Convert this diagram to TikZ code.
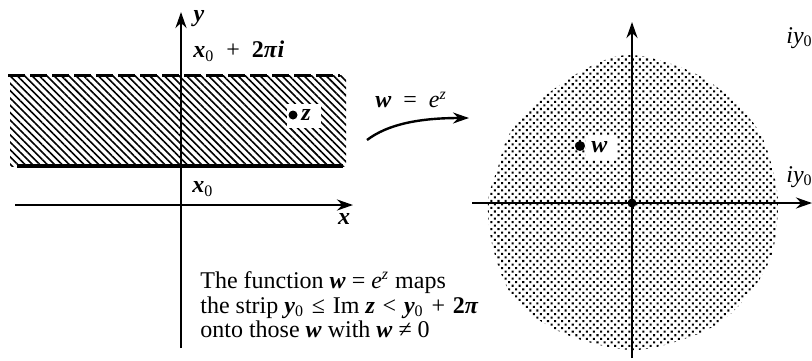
\documentclass[tikz,border=0pt]{standalone}
\usepackage{fontspec}
\setmainfont{Liberation Serif}
\usetikzlibrary{patterns.meta,arrows.meta}
\newcommand{\bv}[1]{\textbf{\textit{#1}}}
\newcommand{\rs}[1]{\kern0.9pt\relax#1\kern0.9pt\relax}
\begin{document}
\begin{tikzpicture}[x=0.5pt,y=-0.5pt,
  axis/.style={line width=1.4pt,-{Stealth[length=8pt,width=5.5pt]}},
  lbl/.style={font=\fontsize{12}{12.5}\selectfont, inner sep=0pt},
  body/.style={font=\fontsize{12}{12.25}\selectfont, inner sep=0pt, anchor=base west},
  dotpt/.style={circle, fill=black, inner sep=0pt, minimum size=#1},
  whitebox/.style={fill=white, draw=none}
  ]
\useasboundingbox (0,0) rectangle (812,360);

% ---------- left plane: strip ----------
\fill[pattern={Lines[angle=-45,distance=2.6pt,line width=0.8pt]}] (10,75) rectangle (346,166);
\fill[whitebox] (287,104) rectangle (321,128);
\coordinate (topL) at (8,75);
\coordinate (topR) at (340,75);
\coordinate (botL) at (17,166);
\coordinate (botR) at (343,166);
\draw[line width=1.5pt, dash pattern=on 8.5pt off 2.5pt] (topL) -- (topR);
\draw[line width=2pt] (botL) -- (botR);

\coordinate (yaxB) at (181,348);
\coordinate (yaxT) at (181,12);
\coordinate (xaxL) at (15,205);
\coordinate (xaxR) at (353,205);
\draw[axis] (yaxB) -- (yaxT);
\draw[axis] (xaxL) -- (xaxR);

\node[lbl] (ylab) at (199,19) {\bv{y}};
\node[lbl] (xlab) at (344,219) {\bv{x}};
\node[lbl, anchor=west] (x0pi) at (193,51) {\bv{x}\textsubscript{0} \ + \ \textbf{2\textit{π}\textit{i}}};
\node[lbl, anchor=west] (x0) at (192,189) {\bv{x}\textsubscript{0}};

\node[dotpt=4.5pt] (z) at (293,115) {};
\node[lbl, anchor=west] (zlab) at (301,115) {\bv{z}};

% ---------- mapping arrow ----------
\coordinate (arrS) at (367,140);
\coordinate (arrE) at (469,118);
\draw[line width=1.2pt, -{Stealth[length=8pt,width=5.5pt]}] (arrS) .. controls (388,124) and (420,118) .. (arrE);
\node[lbl] (map) at (411,100) {\bv{w} \ = \ \textit{e}\textsuperscript{\textit{z}}};

% ---------- caption ----------
\node[body] (t1) at (200,288) {The function \bv{w} = \textit{e}\textsuperscript{\textit{z}} maps};
\node[body] (t2) at (200,313) {the strip \bv{y}\textsubscript{0} \rs{≤} Im \bv{z} \rs{<} \bv{y}\textsubscript{0} \rs{+} \textbf{2\textit{π}}};
\node[body] (t3) at (200,337) {onto those \bv{w} with \bv{w} ≠ 0};

% ---------- right plane: punctured plane disk ----------
\fill[pattern={Dots[distance=2.5pt,radius=0.72pt,angle=45]}]
  plot[smooth cycle, tension=0.55] coordinates {
   (631,55) (690,71) (733,100) (760,133) (772,167) (778,203) (773,250)
   (757,283) (727,317) (690,337) (632,350) (565,334) (516,301) (494,252)
   (488,203) (498,167) (510,133) (540,100) (587,68)};
\fill[whitebox] (586,135) rectangle (617,160);

\coordinate (vaxB) at (632,358);
\coordinate (vaxT) at (632,22);
\coordinate (haxL) at (472,203);
\coordinate (haxR) at (812,203);
\draw[axis] (vaxB) -- (vaxT);
\draw[axis] (haxL) -- (haxR);
\node[dotpt=4.5pt] (origin) at (632,203) {};

\node[dotpt=5pt] (w) at (580,146) {};
\node[lbl, anchor=west] (wlab) at (591,147) {\bv{w}};

\node[lbl, anchor=west] (iy1) at (786,38) {\textit{iy}\textsubscript{0}};
\node[lbl, anchor=west] (iy2) at (786,177) {\textit{iy}\textsubscript{0}};
\end{tikzpicture}
\end{document}
